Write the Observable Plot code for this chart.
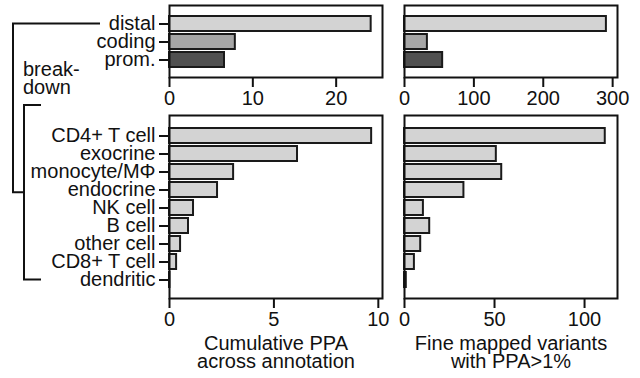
<!DOCTYPE html>
<html><head><meta charset="utf-8">
<script src="https://cdn.jsdelivr.net/npm/d3@7"></script>
<script src="https://cdn.jsdelivr.net/npm/@observablehq/plot@0.6"></script>
<style>
html,body{margin:0;padding:0;background:#fff;}
#chart{position:relative;width:640px;height:378px;overflow:hidden;font-family:"Liberation Sans",Arial,Helvetica,sans-serif;}
#chart > svg, #chart > figure{position:absolute;margin:0;}
#chart svg [aria-label^="x-axis"] path,#chart svg [aria-label^="y-axis"] path,
#chart svg [aria-label^="x-axis"] line,#chart svg [aria-label^="y-axis"] line{stroke-width:2px;stroke:#111;}
</style>
</head><body>
<div id="chart"></div>
<script>
// ---- data ----
const annotations = ["distal", "coding", "prom."];
const annotPPA = [24.2, 7.9, 6.6];
const annotVariants = [291, 33, 55];
const annotFill = ["#d3d3d3", "#a6a6a6", "#505050"];

const cellTypes = ["CD4+ T cell", "exocrine", "monocyte/MΦ", "endocrine", "NK cell", "B cell", "other cell", "CD8+ T cell", "dendritic"];
const cellPPA = [9.68, 6.13, 3.07, 2.3, 1.15, 0.91, 0.53, 0.34, 0.02];
const cellVariants = [111.5, 51, 54, 33, 10.5, 14, 9, 5.5, 1];
const cellFill = "#d3d3d3";

const annotPPATicks = [0, 10, 20];
const annotVarTicks = [0, 100, 200, 300];
const cellPPATicks = [0, 5, 10];
const cellVarTicks = [0, 50, 100];

const xLabelPPA = "Cumulative PPA\nacross annotation";
const xLabelVar = "Fine mapped variants\nwith PPA>1%";
const breakdownLabel = ["break-", "down"];

// ---- panels ----
const FONT = "'Liberation Sans', Arial, Helvetica, sans-serif";
const chart = document.getElementById("chart");

function panel(o) {
  const data = o.cats.map((c, i) => ({c, v: o.values[i], f: Array.isArray(o.fills) ? o.fills[i] : o.fills}));
  const p = Plot.plot({
    width: o.width, height: o.height,
    marginLeft: o.mL, marginRight: o.mR, marginTop: o.mT, marginBottom: o.mB,
    style: {fontFamily: FONT, fontSize: "20px", background: "transparent", overflow: "visible", color: "#111"},
    x: {domain: [0, o.xmax], ticks: o.ticks, tickSize: 10, tickPadding: 3.5, label: null, tickFormat: d3.format("d")},
    y: {domain: o.cats, range: o.yRange, paddingInner: 0.15, paddingOuter: 0, axis: o.yAxis ? "left" : null, tickSize: 10, tickPadding: 4, label: null},
    color: {type: "identity"},
    marks: [
      Plot.barX(data, {x: "v", y: "c", fill: "f", stroke: "#1a1a1a", strokeWidth: 2}),
      Plot.frame({stroke: "#111", strokeWidth: 2}),
      o.xLabel ? Plot.text([o.xLabel], {text: d => d, frameAnchor: "bottom", dy: 39, lineAnchor: "top", lineHeight: 0.88, fontSize: 20, fill: "#111"}) : null
    ]
  });
  p.style.left = o.left + "px";
  p.style.top = o.top + "px";
  chart.appendChild(p);
  return p;
}

const pTL = panel({cats: annotations, values: annotPPA, fills: annotFill, xmax: 25.56, ticks: annotPPATicks,
  left: 0, top: 0, width: 392, height: 108, mL: 169, mR: 10, mT: 5, mB: 31, yRange: [15, 68], yAxis: true});
const pTR = panel({cats: annotations, values: annotVariants, fills: annotFill, xmax: 307, ticks: annotVarTicks,
  left: 392, top: 0, width: 248, height: 108, mL: 12, mR: 23, mT: 5, mB: 31, yRange: [15, 68], yAxis: false});
const pBL = panel({cats: cellTypes, values: cellPPA, fills: cellFill, xmax: 10.2, ticks: cellPPATicks,
  left: 0, top: 108, width: 392, height: 270, mL: 169, mR: 10, mT: 7, mB: 80, yRange: [16, 183], yAxis: true, xLabel: xLabelPPA});
const pBR = panel({cats: cellTypes, values: cellVariants, fills: cellFill, xmax: 118.3, ticks: cellVarTicks,
  left: 392, top: 108, width: 248, height: 270, mL: 12, mR: 23, mT: 7, mB: 80, yRange: [16, 183], yAxis: false, xLabel: xLabelVar});

// ---- breakdown bracket, anchored to the band scales ----
const yT = pTL.scale("y"), yB = pBL.scale("y");
const distalY = 0 + yT.apply("distal") + yT.bandwidth / 2;
const dendY = 108 + yB.apply("dendritic") + yB.bandwidth / 2;
const brTop = 105;
const midY = (brTop + dendY) / 2;

const svg = d3.select(chart).append("svg")
  .attr("width", 640).attr("height", 378)
  .style("left", "0px").style("top", "0px").style("pointer-events", "none");
const pathD = `M100,${distalY}H13V${midY}H24 M41,${brTop}H24V${dendY}H41`;
svg.append("path").attr("d", pathD).attr("fill", "none").attr("stroke", "#111").attr("stroke-width", 2);
svg.append("text").attr("x", 23).attr("y", 76).attr("font-family", FONT).attr("font-size", 20).attr("fill", "#111").text(breakdownLabel[0]);
svg.append("text").attr("x", 23).attr("y", 94).attr("font-family", FONT).attr("font-size", 20).attr("fill", "#111").text(breakdownLabel[1]);
</script>
</body></html>
